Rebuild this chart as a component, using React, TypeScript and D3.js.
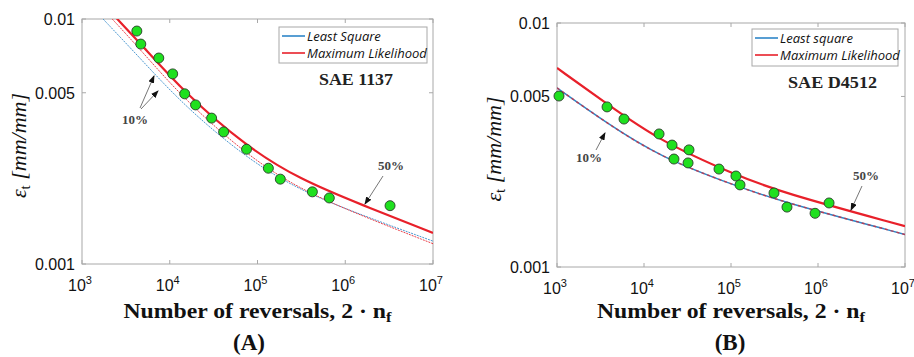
import React from "react";
import * as d3 from "d3";

// ---------- shared axis data ----------
const X_TICKS = [1e3, 1e4, 1e5, 1e6, 1e7];
const X_TICK_EXP = ["3", "4", "5", "6", "7"];
const Y_TICKS = [0.001, 0.005, 0.01];
const Y_TICK_LABELS = ["0.001", "0.005", "0.01"];

// ---------- Panel A : SAE 1137 ----------
const A_DATA_N = [4217, 4677, 7500, 10800, 14800, 19700, 30000, 41100, 75000, 133000, 182000, 422000, 658000, 3240000];
const A_DATA_E = [0.00893, 0.0079, 0.00693, 0.00597, 0.00495, 0.00446, 0.00394, 0.00346, 0.00294, 0.00246, 0.00222, 0.00197, 0.00186, 0.00173];
const A_ML50_N = [2400, 4677, 14791, 74989, 299916, 1560000, 1e7];
const A_ML50_E = [0.0102, 0.00791, 0.00499, 0.00301, 0.00222, 0.00174, 0.00134];
const A_ML10_N = [2100, 4677, 14791, 74989, 299916, 1560000, 1e7];
const A_ML10_E = [0.0102, 0.00747, 0.00467, 0.00279, 0.00202, 0.00157, 0.00121];
const A_LS10_N = [1650, 4677, 14791, 74989, 299916, 1560000, 1e7];
const A_LS10_E = [0.0102, 0.00687, 0.0044, 0.0027, 0.002, 0.00158, 0.00124];

// ---------- Panel B : SAE D4512 ----------
const B_DATA_N = [1054, 3760, 5890, 14900, 21000, 32900, 22100, 32100, 72800, 114000, 127000, 312000, 440000, 925000, 1340000];
const B_DATA_E = [0.00502, 0.00453, 0.00404, 0.00351, 0.00316, 0.00302, 0.00277, 0.00267, 0.00252, 0.00236, 0.00217, 0.00201, 0.00176, 0.00166, 0.00183];
const B_ML50_N = [1000, 3758, 15280, 114000, 365700, 1e7];
const B_ML50_E = [0.00654, 0.00466, 0.00328, 0.00238, 0.00203, 0.00147];
const B_10_N = [1000, 3565, 15280, 114000, 365700, 1e7];
const B_10_E = [0.00542, 0.00393, 0.00282, 0.00215, 0.00186, 0.00136];

const RED = "#e8202a";
const BLUE = "#2e86c8";
const GREEN = "#1fe01f";
const AXIS = "#a8a8a8";
const SERIF = "'Liberation Serif', 'DejaVu Serif', serif";
const SANS = "'Liberation Sans', Arial, sans-serif";

type Curve = { n: number[]; e: number[]; color: string; width: number; dash?: string; opacity?: number };
type Arrow = { x1: number; y1: number; x2: number; y2: number };
type PanelCfg = {
  id: string;
  left: number; right: number; top: number; bottom: number;
  dataN: number[]; dataE: number[];
  curves: Curve[];
  legendItems: string[];
  legend: { x: number; y: number; w: number; h: number };
  title: string; titleX: number; titleY: number; titleW: number;
  letter: string; letterX: number;
  labels: { text: string; x: number; y: number }[];
  arrows: Arrow[];
};

const PANELS: PanelCfg[] = [
  {
    id: "A", left: 82, right: 433, top: 19, bottom: 264,
    dataN: A_DATA_N, dataE: A_DATA_E,
    curves: [
      { n: A_LS10_N, e: A_LS10_E, color: BLUE, width: 1, dash: "2,1", opacity: 0.85 },
      { n: A_ML10_N, e: A_ML10_E, color: RED, width: 1, dash: "2,1", opacity: 0.85 },
      { n: A_ML50_N, e: A_ML50_E, color: RED, width: 2.2 },
    ],
    legendItems: ["Least Square", "Maximum Likelihood"],
    legend: { x: 279, y: 27, w: 148, h: 36 },
    title: "SAE 1137", titleX: 319, titleY: 85, titleW: 74,
    letter: "(A)", letterX: 249,
    labels: [{ text: "10%", x: 135, y: 124 }, { text: "50%", x: 391, y: 170 }],
    arrows: [
      { x1: 140, y1: 108, x2: 154, y2: 76 },
      { x1: 141, y1: 109, x2: 158, y2: 91 },
      { x1: 383, y1: 176, x2: 365, y2: 204 },
    ],
  },
  {
    id: "B", left: 557, right: 905, top: 23, bottom: 267,
    dataN: B_DATA_N, dataE: B_DATA_E,
    curves: [
      { n: B_10_N, e: B_10_E, color: BLUE, width: 1.5 },
      { n: B_10_N, e: B_10_E, color: RED, width: 1.5, dash: "3,3", opacity: 0.7 },
      { n: B_ML50_N, e: B_ML50_E, color: RED, width: 2.2 },
    ],
    legendItems: ["Least square", "Maximum Likelihood"],
    legend: { x: 752, y: 29, w: 146, h: 37 },
    title: "SAE D4512", titleX: 788, titleY: 88, titleW: 89,
    letter: "(B)", letterX: 730,
    labels: [{ text: "10%", x: 589, y: 162 }, { text: "50%", x: 866, y: 180 }],
    arrows: [
      { x1: 596, y1: 150, x2: 605, y2: 133 },
      { x1: 862, y1: 186, x2: 851, y2: 210 },
    ],
  },
];

function Panel({ cfg }: { cfg: PanelCfg }) {
  const x = d3.scaleLog().domain([1e3, 1e7]).range([cfg.left, cfg.right]);
  const y = d3.scaleLog().domain([0.001, 0.01]).range([cfg.bottom, cfg.top]);
  const line = d3
    .line<[number, number]>()
    .x((d) => x(d[0]))
    .y((d) => y(d[1]))
    .curve(d3.curveBasis);
  const clipId = `clip-${cfg.id}`;
  const cx = (cfg.left + cfg.right) / 2;
  const cy = (cfg.top + cfg.bottom) / 2;
  return (
    <g>
      <defs>
        <clipPath id={clipId}>
          <rect x={cfg.left} y={cfg.top} width={cfg.right - cfg.left} height={cfg.bottom - cfg.top} />
        </clipPath>
      </defs>
      <rect x={cfg.left} y={cfg.top} width={cfg.right - cfg.left} height={cfg.bottom - cfg.top} fill="white" stroke={AXIS} strokeWidth={1} />
      {X_TICKS.map((t, i) => (
        <g key={"xt" + i}>
          <line x1={x(t)} x2={x(t)} y1={cfg.bottom} y2={cfg.bottom - 4} stroke={AXIS} />
          <line x1={x(t)} x2={x(t)} y1={cfg.top} y2={cfg.top + 4} stroke={AXIS} />
          <text x={x(t) - 2} y={cfg.bottom + 27} textAnchor="middle" fontFamily={SANS} fontSize={16} fill="#111">
            10<tspan fontSize={11} dy={-7}>{X_TICK_EXP[i]}</tspan>
          </text>
        </g>
      ))}
      {Y_TICKS.map((t, i) => (
        <g key={"yt" + i}>
          <line x1={cfg.left} x2={cfg.left + 4} y1={y(t)} y2={y(t)} stroke={AXIS} />
          <line x1={cfg.right} x2={cfg.right - 4} y1={y(t)} y2={y(t)} stroke={AXIS} />
          <text x={cfg.left - 7} y={y(t) + 6} textAnchor="end" fontFamily={SANS} fontSize={16} fill="#111">
            {Y_TICK_LABELS[i]}
          </text>
        </g>
      ))}
      <g clipPath={`url(#${clipId})`}>
        {cfg.curves.map((c, i) => (
          <path
            key={"c" + i}
            d={line(c.n.map((n, j) => [n, c.e[j]] as [number, number])) || ""}
            fill="none"
            stroke={c.color}
            strokeWidth={c.width}
            strokeDasharray={c.dash}
            opacity={c.opacity ?? 1}
          />
        ))}
      </g>
      {cfg.dataN.map((n, i) => (
        <circle key={"p" + i} cx={x(n)} cy={y(cfg.dataE[i])} r={5} fill={GREEN} stroke="#2b3b2b" strokeWidth={0.9} />
      ))}
      {/* legend */}
      <rect x={cfg.legend.x} y={cfg.legend.y} width={cfg.legend.w} height={cfg.legend.h} fill="white" stroke={AXIS} />
      {cfg.legendItems.map((t, i) => {
        const ly = cfg.legend.y + 9 + i * 17;
        return (
          <g key={"lg" + i}>
            <line x1={cfg.legend.x + 3} x2={cfg.legend.x + 26} y1={ly} y2={ly} stroke={i === 0 ? BLUE : RED} strokeWidth={1.6} />
            <text x={cfg.legend.x + 28} y={ly + 4.5} fontFamily="'Open Sans', sans-serif" fontStyle="italic" fontSize={13} fill="#111">
              {t}
            </text>
          </g>
        );
      })}
      <text x={cfg.titleX} y={cfg.titleY} fontFamily={SERIF} fontWeight="bold" fontSize={16} textLength={cfg.titleW} lengthAdjust="spacingAndGlyphs" fill="#222">
        {cfg.title}
      </text>
      {cfg.labels.map((l, i) => (
        <text key={"lb" + i} x={l.x} y={l.y} textAnchor="middle" fontFamily={SERIF} fontWeight="bold" fontSize={13} fill="#444">
          {l.text}
        </text>
      ))}
      {cfg.arrows.map((a, i) => (
        <line key={"ar" + i} x1={a.x1} y1={a.y1} x2={a.x2} y2={a.y2} stroke="#666" strokeWidth={0.9} markerEnd="url(#arrowhead)" />
      ))}
      {/* y label */}
      <text transform={`translate(${cfg.left - 56},${cy + 4}) rotate(-90)`} textAnchor="middle" fontFamily={SERIF} fontSize={22} fill="#111">
        <tspan fontStyle="italic">ε</tspan>
        <tspan fontSize={15} dy={4}>t</tspan>
        <tspan dy={-4} fontStyle="italic">{"  [mm/mm]"}</tspan>
      </text>
      {/* x label */}
      <text x={cx} y={318} textAnchor="middle" fontFamily={SERIF} fontWeight="bold" fontSize={20} textLength={268} lengthAdjust="spacingAndGlyphs" fill="#111">
        Number of reversals, 2 · n<tspan fontSize={14} dy={4}>f</tspan>
      </text>
      <text x={cfg.letterX} y={350} textAnchor="middle" fontFamily={SERIF} fontWeight="bold" fontSize={23} fill="#111">
        {cfg.letter}
      </text>
    </g>
  );
}

export default function App() {
  return (
    <svg width={914} height={357} style={{ position: "absolute", left: 0, top: 0, background: "white" }}>
      <defs>
        <marker id="arrowhead" markerUnits="userSpaceOnUse" markerWidth={8} markerHeight={6} refX={7} refY={3} orient="auto">
          <path d="M0,0 L8,3 L0,6 z" fill="#111" />
        </marker>
      </defs>
      <rect x={0} y={0} width={914} height={357} fill="white" />
      {PANELS.map((p) => (
        <Panel key={p.id} cfg={p} />
      ))}
    </svg>
  );
}
